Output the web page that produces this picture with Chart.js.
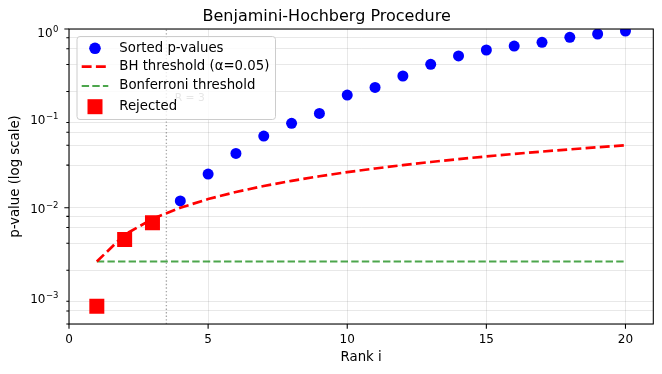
<!DOCTYPE html>
<html><head><meta charset="utf-8">
<script src="https://cdn.jsdelivr.net/npm/chart.js@4"></script>
<style>html,body{margin:0;padding:0;background:#fff;}canvas{display:block;}</style>
</head><body>
<canvas id="c" width="662" height="374"></canvas>
<script>
const TITLE = 'Benjamini-Hochberg Procedure';
const X_LABEL = 'Rank i';
const Y_LABEL = 'p-value (log scale)';
const RANKS = [1,2,3,4,5,6,7,8,9,10,11,12,13,14,15,16,17,18,19,20];
const P_VALUES = [0.00079,0.0044,0.0068,0.0119,0.0238,0.0405,0.0634,0.0879,0.1137,0.182,0.222,0.298,0.402,0.499,0.582,0.645,0.71,0.807,0.879,0.95];
const BH_THRESHOLD = [0.0025,0.005,0.0075,0.01,0.0125,0.015,0.0175,0.02,0.0225,0.025,0.0275,0.03,0.0325,0.035,0.0375,0.04,0.0425,0.045,0.0475,0.05];
const BONF_RANKS = [1, 20];
const BONF_THRESHOLD = [0.0025, 0.0025];
const REJECTED_RANKS = [1, 2, 3];
const REJECTED_P = [0.00079, 0.0044, 0.0068];
const CUTOFF_X = [3.5, 3.5];
const CUTOFF_Y = [0.0005, 1];
const X_TICKS = [0, 5, 10, 15, 20];
const X_TICK_LABELS = ['0', '5', '10', '15', '20'];
const Y_MAJOR_TICKS = [0.001, 0.01, 0.1, 1];
const Y_TICK_EXPONENTS = ['\u22123', '\u22122', '\u22121', '0'];
const LEGEND_LABELS = ['Sorted p-values', 'BH threshold (\u03b1=0.05)', 'Bonferroni threshold', 'Rejected'];
const ANNOTATION = {text: 'R = 3', x: 3.8, y: 0.168};
const X_MIN = 0, X_MAX = 21, Y_MIN = 0.0005, Y_MAX = 1;

const FONT = 'DejaVu Sans';
const BLUE = '#0000ff', RED = '#ff0000', GREEN = 'rgba(0,128,0,0.7)', GRAY = 'rgba(128,128,128,0.7)';
const GRID = 'rgba(0,0,0,0.09)';

const pts = (xs, ys) => xs.map((x, i) => ({x, y: ys[i]}));

const extras = {
  id: 'extras',
  afterDraw(chart) {
    const ctx = chart.ctx, a = chart.chartArea;
    const xs = chart.scales.x, ys = chart.scales.y;
    ctx.save();
    ctx.strokeStyle = '#000'; ctx.lineWidth = 1.07;
    ctx.strokeRect(a.left, a.top, a.right - a.left, a.bottom - a.top);
    ctx.beginPath();
    X_TICKS.forEach(v => { const px = xs.getPixelForValue(v); ctx.moveTo(px, a.bottom); ctx.lineTo(px, a.bottom + 4.67); });
    ys.ticks.forEach(t => {
      const py = ys.getPixelForValue(t.value);
      const major = Y_MAJOR_TICKS.some(m => Math.abs(m - t.value) / m < 1e-6);
      ctx.moveTo(a.left, py); ctx.lineTo(a.left - (major ? 4.67 : 2.67), py);
    });
    ctx.stroke();
    ctx.fillStyle = '#000';
    ctx.font = '12px "' + FONT + '"';
    ctx.textAlign = 'center'; ctx.textBaseline = 'alphabetic';
    X_TICKS.forEach((v, i) => ctx.fillText(X_TICK_LABELS[i], xs.getPixelForValue(v), a.bottom + 19.3));
    Y_MAJOR_TICKS.forEach((v, i) => {
      const py = ys.getPixelForValue(v);
      const exp = Y_TICK_EXPONENTS[i];
      const right = a.left - 10.5;
      ctx.font = '8.5px "' + FONT + '"';
      const sw = ctx.measureText(exp).width;
      const base = py + (exp === '0' ? 8 : 5.5);
      ctx.textAlign = 'left';
      ctx.fillText(exp, right - sw, base - 5);
      ctx.font = '12px "' + FONT + '"';
      ctx.textAlign = 'right';
      ctx.fillText('10', right - sw - 0.5, base);
    });
    ctx.font = '10.7px "' + FONT + '"';
    ctx.fillStyle = '#808080';
    ctx.textAlign = 'left'; ctx.textBaseline = 'middle';
    ctx.fillText(ANNOTATION.text, xs.getPixelForValue(ANNOTATION.x), ys.getPixelForValue(ANNOTATION.y));
    const L = 76.5, T = 36, R = 275, B = 119;
    ctx.beginPath();
    ctx.roundRect(L + 0.5, T + 0.5, R - L, B - T, 3);
    ctx.fillStyle = 'rgba(255,255,255,0.8)'; ctx.fill();
    ctx.strokeStyle = '#cccccc'; ctx.lineWidth = 1; ctx.stroke();
    const rows = [48.3, 66.7, 86, 106.7];
    const mx = 95;
    ctx.fillStyle = BLUE; ctx.beginPath(); ctx.arc(mx, rows[0], 5.8, 0, Math.PI * 2); ctx.fill();
    ctx.strokeStyle = RED; ctx.lineWidth = 2.67; ctx.setLineDash([9.9, 4.3]);
    ctx.beginPath(); ctx.moveTo(81.7, rows[1]); ctx.lineTo(108.3, rows[1]); ctx.stroke();
    ctx.strokeStyle = GREEN; ctx.lineWidth = 2; ctx.setLineDash([7.4, 3.2]);
    ctx.beginPath(); ctx.moveTo(81.7, rows[2]); ctx.lineTo(108.3, rows[2]); ctx.stroke();
    ctx.setLineDash([]);
    ctx.fillStyle = RED; ctx.fillRect(mx - 7.5, rows[3] - 7.5, 15, 15);
    ctx.fillStyle = '#000'; ctx.font = '13.3px "' + FONT + '"';
    ctx.textAlign = 'left'; ctx.textBaseline = 'middle';
    LEGEND_LABELS.forEach((t, i) => ctx.fillText(t, 119.3, rows[i]));
    ctx.restore();
  }
};

new Chart(document.getElementById('c'), {
  type: 'scatter',
  data: {
    datasets: [
      {label: LEGEND_LABELS[3], data: pts(REJECTED_RANKS, REJECTED_P), pointStyle: 'rect', pointRadius: 10.6, pointHoverRadius: 10.6, backgroundColor: RED, borderWidth: 0, clip: 0},
      {label: LEGEND_LABELS[1], data: pts(RANKS, BH_THRESHOLD), showLine: true, borderColor: RED, borderWidth: 2.67, borderDash: [9.9, 4.3], pointRadius: 0, clip: 0},
      {label: LEGEND_LABELS[2], data: pts(BONF_RANKS, BONF_THRESHOLD), showLine: true, borderColor: GREEN, borderWidth: 2, borderDash: [7.4, 3.2], pointRadius: 0, clip: 0},
      {label: LEGEND_LABELS[0], data: pts(RANKS, P_VALUES), pointStyle: 'circle', pointRadius: 5.5, pointHoverRadius: 5.5, backgroundColor: BLUE, borderWidth: 0, clip: 0},
      {label: 'cutoff', data: pts(CUTOFF_X, CUTOFF_Y), showLine: true, borderColor: GRAY, borderWidth: 1.33, borderDash: [1.33, 2.2], pointRadius: 0, clip: 0}
    ]
  },
  options: {
    responsive: false, animation: false, devicePixelRatio: 1,
    events: [],
    layout: {autoPadding: false, padding: {left: 0, right: 8.7, top: 0, bottom: 0}},
    plugins: {
      legend: {display: false},
      tooltip: {enabled: false},
      title: {display: true, text: TITLE, color: '#000', font: {family: FONT, size: 16, weight: 'normal'}, padding: {top: 7.5, bottom: 2.3}}
    },
    scales: {
      x: {
        type: 'linear', min: X_MIN, max: X_MAX,
        afterBuildTicks: s => { s.ticks = X_TICKS.map(v => ({value: v})); },
        afterFit: s => { s.height = 50; },
        ticks: {callback: () => '', font: {family: FONT, size: 12}, maxRotation: 0, autoSkip: false},
        grid: {color: GRID, drawTicks: false, lineWidth: 1},
        border: {display: false},
        title: {display: true, text: X_LABEL, color: '#000', font: {family: FONT, size: 13.3}, padding: {top: 0, bottom: 8.2}}
      },
      y: {
        type: 'logarithmic', min: Y_MIN, max: Y_MAX,
        afterBuildTicks: s => {
          const t = [];
          Y_MAJOR_TICKS.concat([0.0001]).forEach(m => {
            for (let k = 1; k <= 9; k++) { const v = +(m * k).toPrecision(6); if (v >= Y_MIN && v <= Y_MAX) t.push(v); }
          });
          t.sort((p, q) => p - q);
          s.ticks = t.filter((v, i) => t.indexOf(v) === i).map(v => ({value: v}));
        },
        afterFit: s => { s.width = 69; },
        ticks: {callback: () => '', font: {family: FONT, size: 12}},
        grid: {color: GRID, drawTicks: false, lineWidth: 1},
        border: {display: false},
        title: {display: true, text: Y_LABEL, color: '#000', font: {family: FONT, size: 13.3}, padding: {top: 8, bottom: 0}}
      }
    }
  },
  plugins: [extras]
});
</script>
</body></html>
